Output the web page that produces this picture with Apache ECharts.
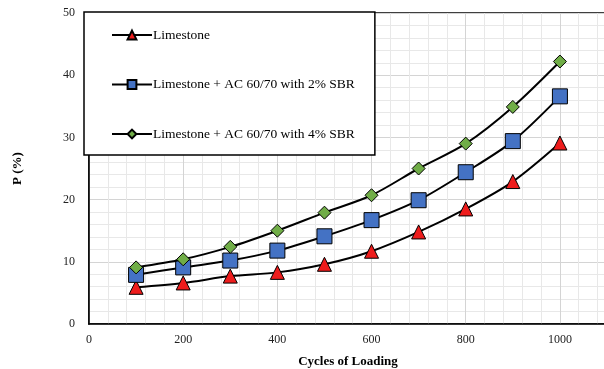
<!DOCTYPE html>
<html><head><meta charset="utf-8">
<script src="https://cdn.jsdelivr.net/npm/echarts@6/dist/echarts.min.js"></script>
<style>html,body{margin:0;padding:0;background:#fff}#c{width:604px;height:369px}</style>
</head><body><div id="c"></div>
<script>
const cycles = [100, 200, 300, 400, 500, 600, 700, 800, 900, 1000];
const limestone = [5.9, 6.6, 7.7, 8.3, 9.6, 11.7, 14.8, 18.5, 22.9, 29.1];
const sbr2 = [7.9, 9.1, 10.2, 11.8, 14.1, 16.7, 19.9, 24.4, 29.4, 36.6];
const sbr4 = [9.1, 10.4, 12.4, 15.0, 17.9, 20.7, 25.0, 29.0, 34.9, 42.2];
const names = ['Limestone', 'Limestone + AC 60/70 with 2% SBR', 'Limestone + AC 60/70 with 4% SBR'];
const xTicks = [0, 200, 400, 600, 800, 1000];
const yTicks = [0, 10, 20, 30, 40, 50];

const font = '"Liberation Serif", "Times New Roman", serif';
function pairs(v){ return cycles.map((c,i)=>[c, v[i]]); }
const styles = [
  {symbol:'triangle', size:14, color:'#ee1c1c'},
  {symbol:'rect', size:15, color:'#4472c4'},
  {symbol:'diamond', size:13, color:'#70ad47'}
];
const chart = echarts.init(document.getElementById('c'));
chart.setOption({
  animation:false,
  backgroundColor:'#fff',
  textStyle:{fontFamily:font},
  grid:{left:89, top:13, width:518, bottom:45, outerBoundsMode:'none', containLabel:false,
    show:true, borderColor:'#000', borderWidth:1.5},
  legend:{
    orient:'vertical', left:84, top:12,
    backgroundColor:'#fff', borderColor:'#000', borderWidth:1.5,
    padding:[16, 20, 14, 27], itemGap:35.5, itemWidth:40, itemHeight:11,
    textStyle:{fontFamily:font, fontSize:13.5, color:'#000', padding:[0,0,0,-4]},
    data:names
  },
  xAxis:{
    type:'value', min:0, max:1100, interval:200,
    name:'Cycles of Loading', nameLocation:'middle', nameGap:31,
    nameTextStyle:{fontFamily:font, fontWeight:'bold', fontSize:13, color:'#000'},
    axisLine:{lineStyle:{color:'#000', width:1.5}},
    axisTick:{show:false},
    axisLabel:{fontFamily:font, fontSize:12, color:'#222', margin:10, showMaxLabel:false,
      formatter:v=>xTicks.includes(v)?String(v):''},
    splitLine:{lineStyle:{color:'#d4d4d4', width:1}},
    minorTick:{show:false, splitNumber:5},
    minorSplitLine:{show:true, lineStyle:{color:'#e8e8e8', width:1}}
  },
  yAxis:{
    type:'value', min:0, max:50, interval:10,
    name:'P (%)', nameLocation:'middle', nameGap:65,
    nameTextStyle:{fontFamily:font, fontWeight:'bold', fontSize:13, color:'#000'},
    axisLine:{show:true, lineStyle:{color:'#000', width:1.5}},
    axisTick:{show:false},
    axisLabel:{fontFamily:font, fontSize:12, color:'#222', margin:14,
      formatter:v=>yTicks.includes(v)?String(v):''},
    splitLine:{lineStyle:{color:'#d4d4d4', width:1}},
    minorTick:{show:false, splitNumber:5},
    minorSplitLine:{show:true, lineStyle:{color:'#e8e8e8', width:1}}
  },
  series:[limestone, sbr2, sbr4].map((v,i)=>({
    name:names[i], type:'line', data:pairs(v), smooth:0.3,
    symbol:styles[i].symbol, symbolSize:styles[i].size,
    lineStyle:{color:'#000', width:2},
    itemStyle:{color:styles[i].color, borderColor:'#000', borderWidth:1},
    z:3+i
  }))
});
</script></body></html>
